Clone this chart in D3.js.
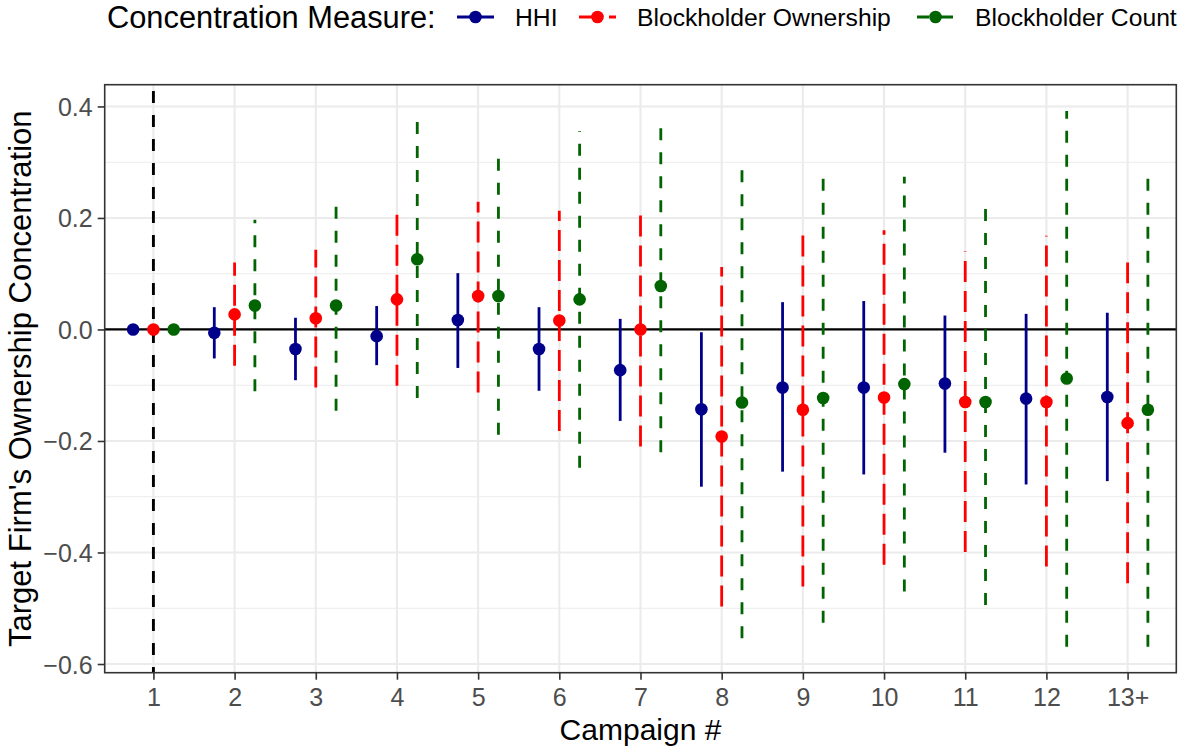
<!DOCTYPE html>
<html>
<head>
<meta charset="utf-8">
<script src="https://cdn.jsdelivr.net/npm/d3@7"></script>
<style>
  html, body { margin: 0; padding: 0; background: #fff; }
  svg { display: block; font-family: "Liberation Sans", Arial, Helvetica, sans-serif; }
</style>
</head>
<body>
<svg id="chart" width="1180" height="747"></svg>
<script>
// ---- Data ----
const categories = ["1","2","3","4","5","6","7","8","9","10","11","12","13+"];
const seriesNames = ["HHI", "Blockholder Ownership", "Blockholder Count"];

const hhiEst = [0, -0.006, -0.035, -0.012, 0.017, -0.035, -0.073, -0.143, -0.104, -0.104, -0.097, -0.124, -0.121];
const hhiLo  = [null, -0.052, -0.091, -0.064, -0.069, -0.110, -0.164, -0.282, -0.255, -0.260, -0.221, -0.278, -0.272];
const hhiHi  = [null, 0.040, 0.021, 0.042, 0.101, 0.040, 0.019, -0.005, 0.049, 0.051, 0.025, 0.028, 0.030];

const boEst = [0, 0.027, 0.020, 0.054, 0.060, 0.016, 0.000, -0.192, -0.144, -0.122, -0.130, -0.130, -0.168];
const boLo  = [null, -0.065, -0.104, -0.101, -0.113, -0.182, -0.210, -0.497, -0.461, -0.422, -0.399, -0.425, -0.455];
const boHi  = [null, 0.120, 0.143, 0.207, 0.229, 0.213, 0.208, 0.112, 0.174, 0.178, 0.140, 0.168, 0.120];

const bcEst = [0, 0.043, 0.043, 0.126, 0.060, 0.054, 0.078, -0.131, -0.123, -0.098, -0.130, -0.088, -0.144];
const bcLo  = [null, -0.111, -0.146, -0.123, -0.189, -0.248, -0.220, -0.554, -0.526, -0.470, -0.494, -0.569, -0.569];
const bcHi  = [null, 0.197, 0.230, 0.374, 0.306, 0.356, 0.374, 0.293, 0.280, 0.274, 0.235, 0.392, 0.282];

const yTicks = [0.4, 0.2, 0.0, -0.2, -0.4, -0.6];
const yMinor = [0.3, 0.1, -0.1, -0.3, -0.5];
const eventCategory = "1";

// ---- Styles ----
const colors = {"HHI": "#00008B", "Blockholder Ownership": "#FF0000", "Blockholder Count": "#006400"};
const dashes = {"HHI": null, "Blockholder Ownership": "21,9", "Blockholder Count": "12,12"};
const dodge = {"HHI": -0.25, "Blockholder Ownership": 0, "Blockholder Count": 0.25};

const series = [
  {name: "HHI", est: hhiEst, lo: hhiLo, hi: hhiHi},
  {name: "Blockholder Ownership", est: boEst, lo: boLo, hi: boHi},
  {name: "Blockholder Count", est: bcEst, lo: bcLo, hi: bcHi}
];

const svg = d3.select("#chart");
const P = {left: 104.7, right: 1176.3, top: 84.7, bottom: 672.7};

const x = d3.scalePoint().domain(categories).range([P.left, P.right]).padding(0.6);
const step = x.step();
const y = d3.scaleLinear().domain([-0.6156, 0.439]).range([P.bottom, P.top]);

// Panel background
svg.append("rect").attr("x", P.left).attr("y", P.top)
  .attr("width", P.right - P.left).attr("height", P.bottom - P.top).attr("fill", "#fff");

// Grid
const grid = svg.append("g");
grid.selectAll(".ymin").data(yMinor).join("line")
  .attr("x1", P.left).attr("x2", P.right)
  .attr("y1", d => y(d)).attr("y2", d => y(d))
  .attr("stroke", "#ebebeb").attr("stroke-width", 1.1);
grid.selectAll(".ymaj").data(yTicks).join("line")
  .attr("x1", P.left).attr("x2", P.right)
  .attr("y1", d => y(d)).attr("y2", d => y(d))
  .attr("stroke", "#ebebeb").attr("stroke-width", 2.1);
grid.selectAll(".xmaj").data(categories).join("line")
  .attr("y1", P.top).attr("y2", P.bottom)
  .attr("x1", d => x(d)).attr("x2", d => x(d))
  .attr("stroke", "#ebebeb").attr("stroke-width", 2.1);

// Zero line
svg.append("line").attr("x1", P.left).attr("x2", P.right)
  .attr("y1", y(0)).attr("y2", y(0))
  .attr("stroke", "#000").attr("stroke-width", 2.3);

// Event vertical dashed line
svg.append("line")
  .attr("x1", x(eventCategory)).attr("x2", x(eventCategory))
  .attr("y1", P.top).attr("y2", P.bottom)
  .attr("stroke", "#000").attr("stroke-width", 2.9)
  .attr("stroke-dasharray", "12,12").attr("stroke-dashoffset", 17.7);

// Point ranges
const marks = svg.append("g");
series.forEach(s => {
  const g = marks.append("g");
  const rows = categories.map((c, i) => ({c, est: s.est[i], lo: s.lo[i], hi: s.hi[i]}));
  const px = d => x(d.c) + dodge[s.name] * step;
  g.selectAll("line").data(rows.filter(d => d.lo !== null)).join("line")
    .attr("x1", px).attr("x2", px)
    .attr("y1", d => y(d.lo)).attr("y2", d => y(d.hi))
    .attr("stroke", colors[s.name]).attr("stroke-width", 2.8)
    .attr("stroke-dasharray", dashes[s.name]);
  g.selectAll("circle").data(rows).join("circle")
    .attr("cx", px).attr("cy", d => y(d.est)).attr("r", 6.3)
    .attr("fill", colors[s.name]);
});

// Panel border
svg.append("rect").attr("x", P.left).attr("y", P.top)
  .attr("width", P.right - P.left).attr("height", P.bottom - P.top)
  .attr("fill", "none").attr("stroke", "#333").attr("stroke-width", 1.6);

// Axes
const fmt = d => (d < 0 ? "\u2212" : "") + Math.abs(d).toFixed(1);
const yAxis = svg.append("g").attr("transform", `translate(${P.left},0)`)
  .call(d3.axisLeft(y).tickValues(yTicks).tickFormat(fmt).tickSize(7).tickPadding(5));
const xAxis = svg.append("g").attr("transform", `translate(0,${P.bottom})`)
  .call(d3.axisBottom(x).tickSize(7).tickPadding(5));
[yAxis, xAxis].forEach(a => {
  a.select(".domain").remove();
  a.selectAll(".tick line").attr("stroke", "#333").attr("stroke-width", 1.6);
  a.selectAll(".tick text").attr("fill", "#4d4d4d").attr("font-size", 25)
    .attr("font-family", "Liberation Sans, Arial, sans-serif");
});
xAxis.selectAll(".tick text").attr("dy", null).attr("y", 33);
yAxis.selectAll(".tick text").attr("dy", "0.36em");

// Axis titles
svg.append("text").attr("x", (P.left + P.right) / 2).attr("y", 739.5)
  .attr("text-anchor", "middle").attr("font-size", 30).attr("fill", "#000")
  .text("Campaign #");
svg.append("text")
  .attr("transform", `translate(31,${(P.top + P.bottom) / 2}) rotate(-90)`)
  .attr("text-anchor", "middle").attr("font-size", 31).attr("fill", "#000")
  .text("Target Firm's Ownership Concentration");

// Legend
const lg = svg.append("g");
const legendY = 17;
lg.append("text").attr("x", 107).attr("y", legendY).attr("dy", "0.35em")
  .attr("font-size", 30.8).attr("fill", "#000").text("Concentration Measure:");
const legendKeys = [457, 579, 917];
series.forEach((s, i) => {
  const k0 = legendKeys[i];
  lg.append("line").attr("x1", k0).attr("x2", k0 + 37)
    .attr("y1", legendY).attr("y2", legendY)
    .attr("stroke", colors[s.name]).attr("stroke-width", 2.8)
    .attr("stroke-dasharray", dashes[s.name]);
  lg.append("circle").attr("cx", k0 + 18.5).attr("cy", legendY).attr("r", 6.3)
    .attr("fill", colors[s.name]);
  lg.append("text").attr("x", k0 + 58).attr("y", legendY).attr("dy", "0.35em")
    .attr("font-size", 24.7).attr("fill", "#000").text(s.name);
});
</script>
</body>
</html>
